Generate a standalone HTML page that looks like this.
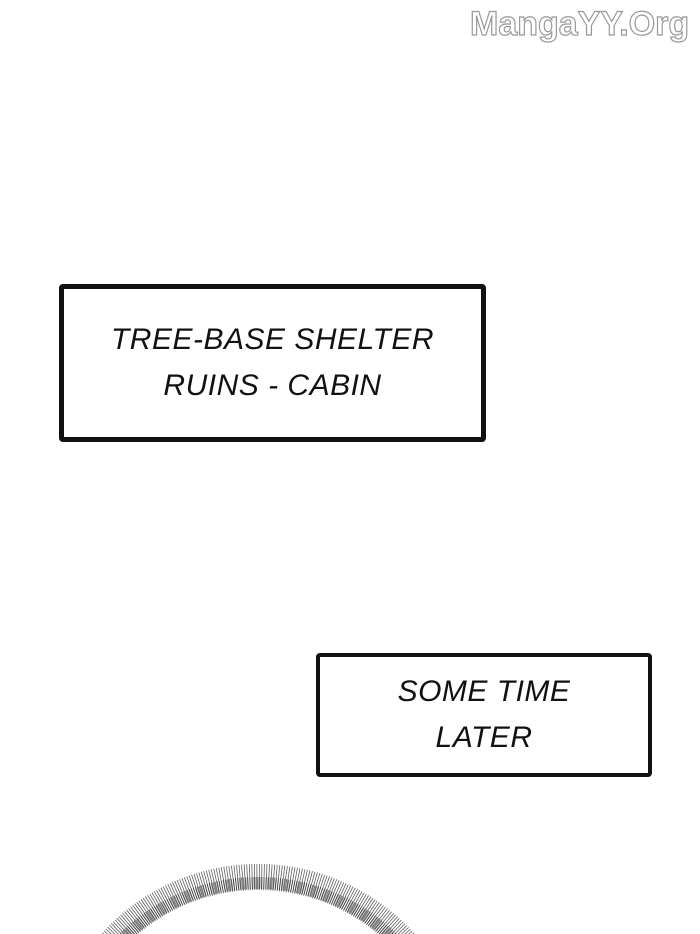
<!DOCTYPE html>
<html><head><style>
html,body{margin:0;padding:0;background:#fff;}
body{width:700px;height:934px;position:relative;overflow:hidden;font-family:"Liberation Sans",sans-serif;}
.box{position:absolute;border:5px solid #111;border-radius:4px;box-sizing:border-box;display:flex;align-items:center;justify-content:center;text-align:center;color:#111;font-size:30px;line-height:46px;font-style:italic;letter-spacing:0.5px;}
.wm{position:absolute;left:470px;top:4px;width:220px;font-size:34px;line-height:40px;font-weight:bold;color:#fff;-webkit-text-stroke:1.2px #999;white-space:nowrap;overflow:hidden;}
</style></head><body>
<div class="wm">MangaYY.Org</div>
<div class="box" style="left:59px;top:284px;width:427px;height:158px;"><div>TREE-BASE SHELTER<br>RUINS - CABIN</div></div>
<div class="box" style="left:316px;top:653px;width:336px;height:124px;border-width:4px;"><div>SOME TIME<br>LATER</div></div>
<svg style="position:absolute;left:0;top:0;overflow:hidden" width="700" height="934">
<circle cx="258" cy="1075" r="198" fill="none" stroke="#444" stroke-width="26" stroke-dasharray="0.8 1.6" opacity="0.85"/>
<circle cx="258" cy="1075" r="192" fill="none" stroke="#222" stroke-width="12" stroke-dasharray="0.8 1.2" opacity="0.7"/>
</svg>
</body></html>
